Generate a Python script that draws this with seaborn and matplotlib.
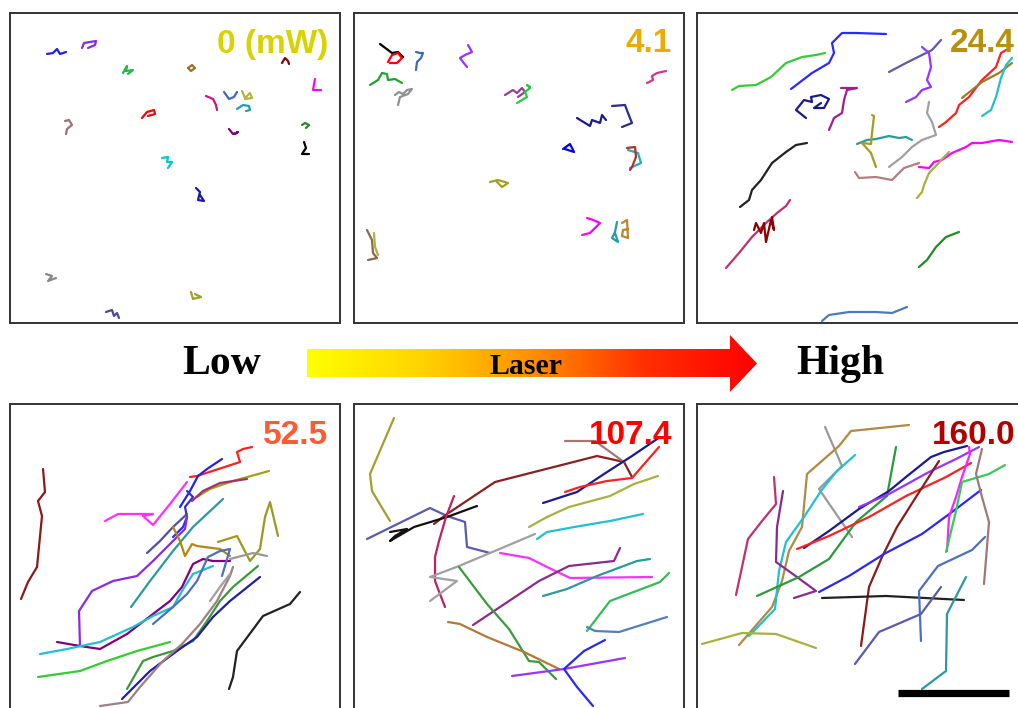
import numpy as np
import pandas as pd
import matplotlib
matplotlib.use("Agg")
import matplotlib.pyplot as plt
from matplotlib.colors import LinearSegmentedColormap
from matplotlib.patches import Polygon
import seaborn as sns

sns.set_style("white")
plt.rcParams["font.family"] = ["Liberation Sans", "DejaVu Sans"]

# ---------------- data: particle trajectories (positions in px units of each field) ----------------
P1_TRACKS = [
    [(37,41),(43,40),(47,36),(50,41),(56,39)],
    [(72,35),(74,30),(86,28),(85,32),(78,35)],
    [(113,60),(117,53),(116,58),(123,57),(118,61)],
    [(178,55),(182,52),(185,55),(181,58),(178,55)],
    [(272,50),(275,45),(278,48),(279,51)],
    [(305,66),(303,77),(311,77)],
    [(196,83),(203,86),(206,92),(207,97)],
    [(214,79),(219,86),(224,84),(227,79)],
    [(232,78),(235,85),(240,80),(242,85),(235,86)],
    [(227,96),(233,92),(239,93),(240,97),(236,98)],
    [(132,105),(137,99),(144,97),(145,101),(138,103)],
    [(55,108),(59,107),(62,112),(57,116),(56,121)],
    [(219,116),(223,121),(228,119),(225,121)],
    [(292,112),(295,110),(299,112),(296,115)],
    [(294,129),(296,135),(292,141),(299,141)],
    [(152,145),(158,144),(157,149),(162,149),(158,155)],
    [(186,175),(190,179),(188,187),(194,188),(190,182)],
    [(36,261),(42,263),(38,268),(46,265)],
    [(181,279),(183,286),(191,284),(185,281)],
    [(96,299),(102,297),(104,303),(107,300),(109,305)],
]
P1_COLORS = ['#2020e0','#8a2be2','#22bb44','#a0702a','#8b0000','#ff00ff','#c71585',
             '#3a6ab8','#b5b53a','#20a0a8','#ff0000','#a07070','#800080','#228b22',
             '#000000','#00c8d0','#1a1aa0','#888888','#a0a020','#4a4a9a']

P2_TRACKS = [
    [(26,31),(38,40),(44,39),(49,44)],
    [(34,49),(38,42),(44,40),(48,45),(43,50),(36,50)],
    [(62,39),(66,40),(69,40),(67,45),(63,49),(62,57)],
    [(114,32),(118,39),(111,42),(106,45),(109,49),(113,54)],
    [(16,72),(24,67),(28,60),(33,61),(34,67),(41,66),(48,70)],
    [(41,82),(45,79),(49,81),(53,77),(58,76),(54,81),(46,84),(44,92)],
    [(151,82),(159,77),(163,80),(168,75),(171,79),(164,84)],
    [(163,90),(168,87),(173,84),(171,79),(176,75),(173,72),(176,74)],
    [(293,70),(299,67),(298,63),(303,60),(312,58)],
    [(223,105),(236,113),(238,107),(246,110),(248,102),(252,107)],
    [(258,93),(271,92),(274,100),(278,110),(268,114)],
    [(209,136),(216,131),(220,139),(211,136)],
    [(274,137),(284,140),(287,150),(276,155)],
    [(273,135),(281,134),(282,144),(278,154),(276,157)],
    [(136,169),(144,167),(154,170),(148,174),(143,169)],
    [(233,205),(239,207),(246,210),(236,220),(228,222)],
    [(263,209),(261,219),(258,225),(264,229),(261,220)],
    [(268,210),(273,207),(274,225),(268,223),(269,217),(274,216)],
    [(13,217),(18,227),(19,240),(23,245),(14,247)],
    [(20,220),(21,234),(24,242)],
]
P2_COLORS = ['#000000','#ff0000','#3a6ab8','#9b30ff','#22a030','#909090','#9b3a9b',
             '#22cc44','#d63384','#1a1a8c','#2a2a90','#0000ee','#20b0b0','#b03030',
             '#a0a020','#ff00ff','#20a0a0','#b8862b','#8b6a4a','#b0b040']

P3_TRACKS = [
    [(94,76),(115,60),(132,50),(137,40),(135,30),(145,20),(159,20),(189,21)],
    [(35,77),(42,73),(59,72),(74,64),(89,50),(105,44),(119,42),(128,40)],
    [(192,59),(209,50),(225,42),(235,37),(244,27)],
    [(225,34),(232,40),(234,54),(230,67),(234,74),(225,77),(219,84),(209,89)],
    [(109,105),(99,97),(107,87),(115,89),(114,84),(124,82),(132,86),(127,95),(117,95),(124,90)],
    [(144,75),(160,75),(150,77),(147,87),(145,100),(137,105),(132,117)],
    [(242,114),(249,109),(259,100),(262,92),(272,84),(285,67),(299,54),(304,40),(309,37)],
    [(265,85),(285,69),(302,60),(315,50)],
    [(285,103),(294,97),(299,84),(304,65),(309,52),(315,45)],
    [(232,89),(230,100),(235,109),(239,122),(225,127),(215,134),(205,144),(192,154)],
    [(160,131),(170,127),(179,126),(192,123),(202,125),(209,124),(215,127)],
    [(175,102),(177,103),(175,120),(174,131),(165,130),(174,140),(179,154)],
    [(43,194),(52,187),(55,177),(64,167),(75,150),(89,139),(99,132),(110,130)],
    [(158,159),(162,165),(179,164),(195,167),(207,155),(222,150)],
    [(222,154),(232,155),(237,149),(245,147),(255,140),(269,134),(275,130),(285,130),(302,127),(315,129)],
    [(220,185),(225,179),(227,172),(232,160),(240,152),(247,144),(252,139)],
    [(29,255),(42,240),(55,224),(69,210),(80,200),(89,193),(93,187)],
    [(57,217),(59,210),(64,220),(67,210),(69,229),(74,207),(77,217),(75,204)],
    [(222,254),(230,247),(239,234),(249,224),(262,219)],
    [(125,308),(132,302),(152,299),(179,299),(195,300),(210,294)],
]
P3_COLORS = ['#2a2aff','#33cc33','#5a5ab0','#9933ff','#1a1a8c','#a0208a','#ff2020',
             '#a0782a','#20c0d0','#a0a0a0','#2a9a9a','#a0a020','#222222','#b08080',
             '#ff00ff','#a8b040','#c03070','#8b0000','#228b22','#4a7ac0']

P4_TRACKS = [
    [(33,65),(35,88),(28,97),(32,112),(27,163),(18,178),(11,195)],
    [(180,73),(187,72),(230,58),(227,48),(233,45),(242,43)],
    [(212,55),(197,65),(188,72),(180,87),(170,103)],
    [(177,87),(183,93),(175,103),(177,113),(173,123),(163,133)],
    [(95,117),(108,110),(143,110),(133,112),(143,121),(160,100),(177,78)],
    [(187,93),(200,85),(223,77),(259,67)],
    [(182,97),(193,87),(210,79),(237,75)],
    [(121,203),(140,177),(163,147),(183,123),(213,95)],
    [(70,242),(69,207),(82,187),(103,177),(127,172),(143,157),(160,140),(175,125),(177,113)],
    [(137,149),(150,137),(163,123),(177,110)],
    [(163,123),(170,137),(175,152),(182,140),(187,142),(210,145),(220,152)],
    [(208,138),(227,132),(240,157),(250,145),(255,113),(260,98),(268,132)],
    [(220,155),(243,149),(257,152)],
    [(47,238),(70,242),(90,245),(117,230),(143,210),(160,197),(172,183),(183,160),(193,155),(203,157),(220,157)],
    [(30,250),(57,245),(90,238),(123,223),(143,212),(163,203),(172,187),(183,170),(203,162)],
    [(143,220),(163,203),(177,190),(187,177),(198,153),(210,147),(220,145),(212,172)],
    [(28,273),(70,267),(97,257),(127,247),(160,238)],
    [(117,285),(133,257),(143,253),(163,247),(183,237),(197,217),(210,197),(223,183),(248,162)],
    [(112,295),(127,280),(140,267),(167,247),(187,233),(203,213),(220,197),(250,173)],
    [(90,302),(118,298),(130,283),(153,257),(172,240),(190,220),(207,197),(220,172),(223,163)],
    [(200,197),(210,183),(220,170)],
    [(219,285),(223,273),(227,247),(253,212),(280,200),(290,188)],
]
P4_COLORS = ['#8b1a1a','#ff2020','#2222ee','#3030dd','#ff30ff','#a0a020','#a03070',
             '#2a9a9a','#8a2be2','#5050a0','#b8860b','#9a9a20','#999999','#800080',
             '#20c0d0','#4a70c0','#33cc33','#3a9a3a','#2020a0','#a08080','#a0a0a0','#222222']

P5_TRACKS = [
    [(40,14),(16,70),(18,87),(36,117)],
    [(13,135),(76,104),(93,112),(111,118),(113,143),(136,149)],
    [(80,120),(93,110),(141,78),(243,52),(270,58),(278,73)],
    [(36,128),(53,125),(41,132),(36,137),(60,123),(93,113),(123,102)],
    [(100,92),(92,113),(85,137),(81,153),(81,177),(91,203)],
    [(76,197),(103,177),(76,173),(105,162),(136,149),(181,130)],
    [(211,37),(241,37),(270,58)],
    [(189,99),(223,88),(250,70),(278,52),(306,33)],
    [(211,88),(226,83),(253,77),(278,74),(305,43)],
    [(175,123),(193,113),(215,103),(256,92),(280,80),(304,72)],
    [(183,135),(193,128),(226,122),(256,117),(289,110)],
    [(146,149),(175,154),(193,163),(216,174),(298,173)],
    [(119,221),(146,203),(185,177),(215,162),(260,157),(266,144)],
    [(189,192),(213,185),(243,172),(283,157),(296,155)],
    [(233,227),(256,197),(306,178),(315,169)],
    [(233,223),(241,227),(265,228),(313,213)],
    [(105,163),(133,200),(155,225),(175,257),(185,258),(202,275)],
    [(94,218),(106,220),(133,233),(170,248),(205,265)],
    [(158,272),(210,265),(271,254)],
    [(251,236),(230,247),(210,265),(223,283),(239,302)],
]
P5_COLORS = ['#a0a030','#5a5ab0','#8b2020','#111111','#c02060','#a0a0a0','#a07878',
             '#1a1a8c','#ff2020','#a8b040','#20c0d0','#ff30ff','#8b2a8b','#2a9a9a',
             '#33bb55','#5080c0','#3a9a3a','#b07a3a','#9933ff','#2a2aee']

P6_TRACKS = [
    [(128,23),(145,62),(122,85),(155,133)],
    [(212,21),(154,27),(142,42),(110,70),(105,123),(92,147),(85,177),(75,203),(42,241)],
    [(158,51),(139,68),(124,87),(107,113),(89,138),(82,167),(78,205),(52,232)],
    [(5,240),(45,229),(79,230),(119,244)],
    [(77,73),(79,100),(65,117),(51,135),(39,191)],
    [(86,87),(80,123),(79,158),(100,173),(119,187),(97,194)],
    [(60,192),(102,173),(132,155),(159,118),(190,92),(199,43)],
    [(107,144),(132,127),(162,105),(192,87),(209,73),(234,53),(247,48),(270,42)],
    [(100,145),(132,132),(172,113),(209,92),(249,73),(274,59)],
    [(162,103),(192,90),(232,68),(259,55),(282,43)],
    [(242,57),(219,93),(200,123),(185,153),(172,183),(164,242)],
    [(122,188),(152,172),(187,150),(225,130),(255,108),(284,86)],
    [(272,43),(273,50),(265,73),(259,93),(252,113),(250,147)],
    [(308,61),(292,70),(265,78),(259,107),(249,148)],
    [(285,45),(279,70),(285,93),(292,118),(287,180)],
    [(125,194),(189,192),(267,196)],
    [(288,133),(275,146),(241,162),(222,187),(224,237)],
    [(244,183),(224,210),(182,228),(158,260)],
    [(269,173),(250,210),(249,267),(225,285)],
]
P6_COLORS = ['#999999','#b08a40','#20c0d0','#a8b040','#c03070','#8b2a8b','#2a9a3a',
             '#1a1a8c','#ff2020','#9933ff','#8b1a1a','#2a2aee','#ff20ff','#33cc55',
             '#a07878','#222222','#4a70c0','#5a5ab0','#2a9aa0']

POWER_LABELS = ['0 (mW)', '4.1', '24.4', '52.5', '107.4', '160.0']
LABEL_COLORS = ['#d8d200', '#e8ad00', '#b8900a', '#ff5a36', '#ff0000', '#b00000']

PANELS = [(P1_TRACKS, P1_COLORS), (P2_TRACKS, P2_COLORS), (P3_TRACKS, P3_COLORS),
          (P4_TRACKS, P4_COLORS), (P5_TRACKS, P5_COLORS), (P6_TRACKS, P6_COLORS)]

# ---------------- layout ----------------
FW, FH = 1018, 708
PW, PH = 330, 310
LEFTS = [10, 354, 697]
TOPS = [13, 404]

fig = plt.figure(figsize=(FW / 100, FH / 100), dpi=100)
fig.patch.set_facecolor('white')


def to_df(tracks):
    rows = []
    for i, tr in enumerate(tracks):
        for j, (x, y) in enumerate(tr):
            rows.append({'track': f't{i}', 'step': j, 'x': x, 'y': y})
    return pd.DataFrame(rows)


for k, (tracks, colors) in enumerate(PANELS):
    r, c = divmod(k, 3)
    left, top = LEFTS[c], TOPS[r]
    ax = fig.add_axes([left / FW, 1 - (top + PH) / FH, PW / FW, PH / FH])
    df = to_df(tracks)
    pal = {f't{i}': colors[i] for i in range(len(tracks))}
    lw = 1.6 if k < 2 else 1.6
    sns.lineplot(data=df, x='x', y='y', hue='track', units='track', estimator=None,
                 sort=False, palette=pal, legend=False, lw=lw, ax=ax)
    ax.set_xlim(0, PW)
    ax.set_ylim(PH, 0)
    ax.set_xticks([])
    ax.set_yticks([])
    ax.set_xlabel('')
    ax.set_ylabel('')
    for s in ax.spines.values():
        s.set_visible(True)
        s.set_color('#333333')
        s.set_linewidth(1.4)
    ax.text(318, 31, POWER_LABELS[k], ha='right', va='center', fontsize=24,
            fontweight='bold', color=LABEL_COLORS[k])
    if k == 5:
        ax.plot([201, 312], [289, 289], color='black', lw=5.2, solid_capstyle='butt')

# ---------------- middle: Low -> Laser -> High arrow ----------------
mid = fig.add_axes([0, 0, 1, 1], zorder=-1)
mid.set_xlim(0, FW)
mid.set_ylim(FH, 0)
mid.axis('off')

cmap = LinearSegmentedColormap.from_list('laser', ['#ffff00', '#ffd400', '#ff9000', '#ff3000', '#ff0000'])
grad = np.linspace(0, 1, 512).reshape(1, -1)
im = mid.imshow(grad, cmap=cmap, aspect='auto', extent=[307, 757, 392, 335], interpolation='bilinear')
arrow = Polygon([(307, 349), (730, 349), (730, 335), (757, 363.5), (730, 392), (730, 377), (307, 377)],
                closed=True, transform=mid.transData, facecolor='none', edgecolor='none')
mid.add_patch(arrow)
im.set_clip_path(arrow)

serif = ['Liberation Serif', 'DejaVu Serif']
mid.text(222, 364, 'Low', ha='center', va='center', fontsize=30, fontweight='bold', family=serif, color='black')
mid.text(840, 364, 'High', ha='center', va='center', fontsize=30, fontweight='bold', family=serif, color='black')
mid.text(526, 366, 'Laser', ha='center', va='center', fontsize=21.5, fontweight='bold', family=serif, color='black')

fig.savefig('out.png', dpi=100, facecolor='white')
